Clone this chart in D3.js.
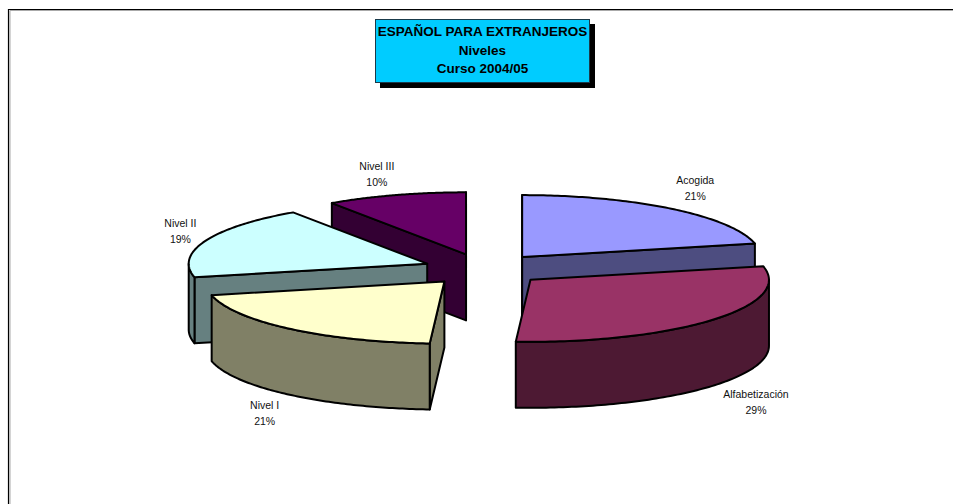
<!DOCTYPE html>
<html><head><meta charset="utf-8">
<style>html,body{margin:0;padding:0;background:#fff}svg{display:block}</style>
<script src="https://cdn.jsdelivr.net/npm/d3@7/dist/d3.min.js"></script></head>
<body><svg id="c" width="953" height="504"></svg>
<script>
const categories = ["Acogida","Alfabetización","Nivel I","Nivel II","Nivel III"];
const values = [21.49,29.49,20.51,19.0,9.51];
const percentLabels = ["21%","29%","21%","19%","10%"];
const topColors = ["#9999FF","#993366","#FFFFCC","#CCFFFF","#660066"];
const wallColors = ["#4D4D80","#4D1933","#808066","#668080","#330033"];
const titleLines = ["ESPAÑOL PARA EXTRANJEROS","Niveles","Curso 2004/05"];
const labelNudge = [[24,-21],[44,82],[-25,84],[-25,-10],[-19,-21]];
const drawOrder = [4,0,3,1,2];

const W=953,H=504,cx=484,cy=269.5,rx=238.5,ry=62,depth=66,explode=0.256;
const svg=d3.select("#c");
svg.append("rect").attr("width",W).attr("height",H).attr("fill","#fff");
svg.append("path").attr("d",`M10,10.5H${W}M10,10.5V${H}`).attr("fill","none").attr("stroke","#aaa").attr("stroke-width",1);
svg.append("path").attr("d",`M8.5,${H}V9.5H${W}`).attr("fill","none").attr("stroke","#000").attr("stroke-width",1.2);

const pie=d3.pie().sort(null).value(d=>d);
const arcs=pie(values);
const sx=d3.scaleLinear().domain([-1,1]).range([-rx,rx]);
const sy=d3.scaleLinear().domain([-1,1]).range([-ry,ry]);
const line=d3.line().curve(d3.curveLinear);
const PI=Math.PI,EPS=1e-6;
const rim=(o,a,dz=0)=>[o[0]+sx(Math.sin(a)),o[1]+sy(-Math.cos(a))+dz];
const sweep=(a0,a1,n=90)=>d3.range(n+1).map(i=>a0+(a1-a0)*i/n);
const origin=a=>{const m=(a.startAngle+a.endAngle)/2;return [cx+explode*sx(Math.sin(m)),cy+explode*sy(-Math.cos(m))];};
const down=(p)=>[p[0],p[1]+depth];
const stroke={stroke:"#000","stroke-width":2,"stroke-linejoin":"round"};
function draw(pts,fill){
  const p=svg.append("path").attr("d",line(pts)+"Z").attr("fill",fill);
  Object.entries(stroke).forEach(([k,v])=>p.attr(k,v));
}
drawOrder.forEach(i=>{
  const a=arcs[i],o=origin(a),s=rim(o,a.startAngle),e=rim(o,a.endAngle);
  if(Math.sin(a.startAngle)<=EPS) draw([o,s,down(s),down(o)],wallColors[i]);
  if(Math.sin(a.endAngle)>=-EPS) draw([o,e,down(e),down(o)],wallColors[i]);
  const f0=Math.max(a.startAngle,PI/2),f1=Math.min(a.endAngle,3*PI/2);
  if(f1>f0){
    const top=sweep(f0,f1).map(t=>rim(o,t));
    draw(top.concat(top.slice().reverse().map(down)),wallColors[i]);
  }
  draw([o].concat(sweep(a.startAngle,a.endAngle).map(t=>rim(o,t))),topColors[i]);
});

const font='"Liberation Sans",Arial,sans-serif';
arcs.forEach((a,i)=>{
  const m=(a.startAngle+a.endAngle)/2,p=rim(origin(a),m);
  const x=p[0]+labelNudge[i][0],y=p[1]+labelNudge[i][1];
  const t=svg.append("text").attr("text-anchor","middle").attr("font-family",font).attr("font-size",10.5).attr("fill","#111");
  t.append("tspan").attr("x",x).attr("y",y-4).text(categories[i]);
  t.append("tspan").attr("x",x).attr("y",y+12).text(percentLabels[i]);
});

svg.append("rect").attr("x",380).attr("y",24).attr("width",215).attr("height",64).attr("fill","#000");
svg.append("rect").attr("x",375.5).attr("y",19.5).attr("width",214).attr("height",63).attr("fill","#00CCFF").attr("stroke","#1a3a4a").attr("stroke-width",1);
const tb=[36,55,73];
titleLines.forEach((s,i)=>svg.append("text").attr("x",482.5).attr("y",tb[i]).attr("text-anchor","middle")
  .attr("font-family",font).attr("font-weight","bold").attr("font-size",13.5).attr("fill","#000").text(s));
</script></body></html>
